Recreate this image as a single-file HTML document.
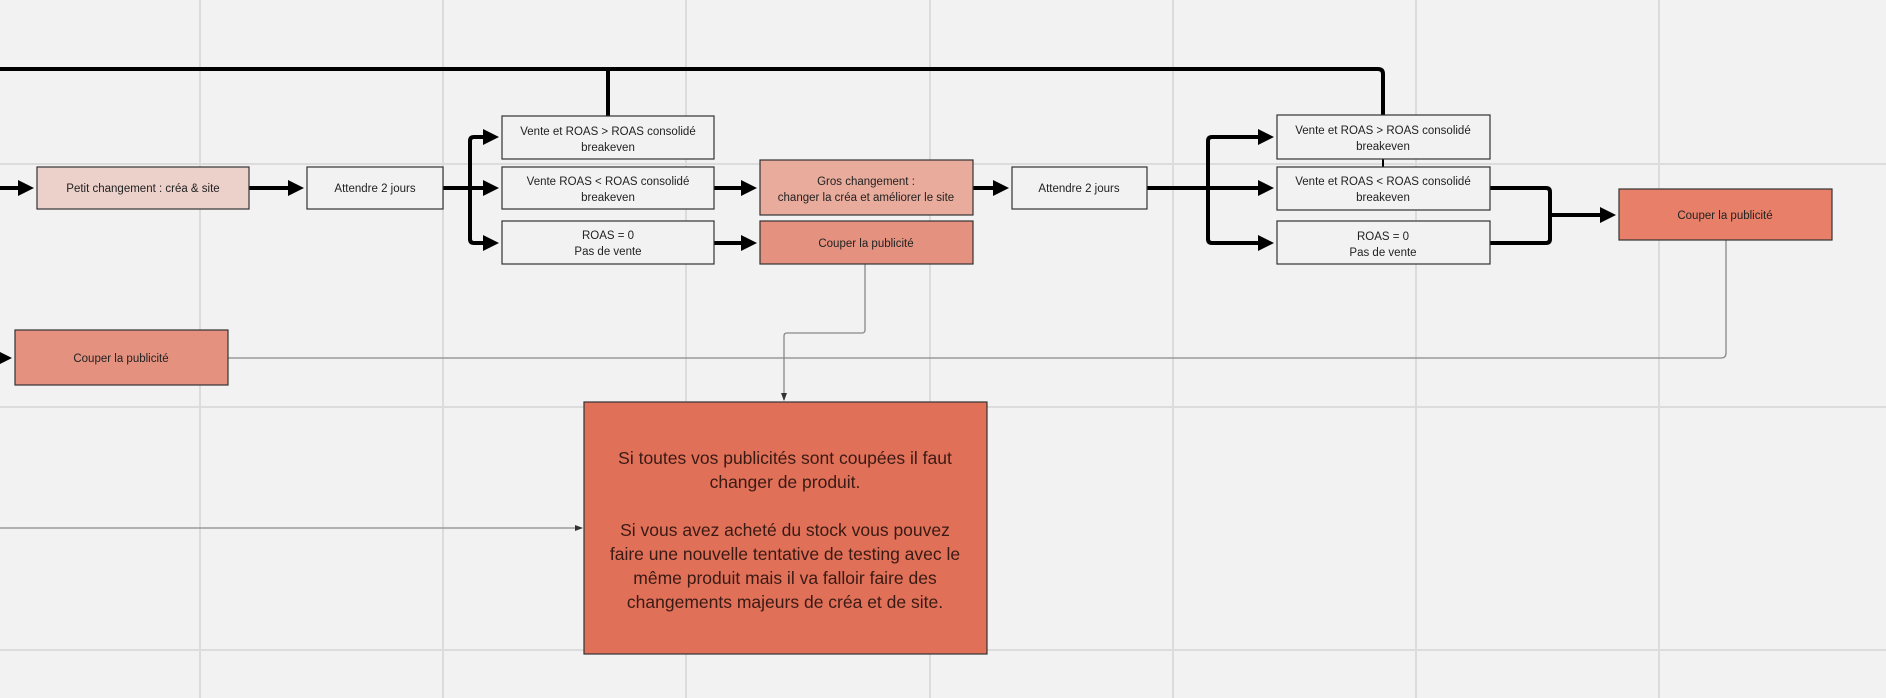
<!DOCTYPE html>
<html><head><meta charset="utf-8"><style>
html,body{margin:0;padding:0;background:#f2f2f2;}
svg{display:block;}
text{font-family:"Liberation Sans",sans-serif;}
</style></head><body>
<svg width="1886" height="698" viewBox="0 0 1886 698" xmlns="http://www.w3.org/2000/svg">
<defs>
<marker id="a" markerWidth="4" markerHeight="4" refX="3" refY="2" orient="auto" markerUnits="strokeWidth"><path d="M0,0 L4,2 L0,4 z" fill="#000"/></marker>
<marker id="s" markerWidth="8" markerHeight="8" refX="7" refY="4" orient="auto" markerUnits="userSpaceOnUse"><path d="M0,1 L8,4 L0,7 z" fill="#333"/></marker>
</defs>
<rect width="1886" height="698" fill="#f2f2f2"/>
<g stroke="#dcdcdc" stroke-width="2">
<line x1="200" y1="0" x2="200" y2="698"/><line x1="443" y1="0" x2="443" y2="698"/><line x1="686" y1="0" x2="686" y2="698"/><line x1="930" y1="0" x2="930" y2="698"/><line x1="1173" y1="0" x2="1173" y2="698"/><line x1="1416" y1="0" x2="1416" y2="698"/><line x1="1659" y1="0" x2="1659" y2="698"/>
<line x1="0" y1="164" x2="1886" y2="164"/><line x1="0" y1="407" x2="1886" y2="407"/><line x1="0" y1="650" x2="1886" y2="650"/>
</g>
<!-- thin gray connectors -->
<g fill="none" stroke="#888" stroke-width="1.3">
<path d="M228,358 H1721 Q1726,358 1726,353 V240"/>
<path d="M865,264 V330 Q865,333 862,333 H787 Q784,333 784,336 V400" marker-end="url(#s)"/>
<path d="M0,528 H582" marker-end="url(#s)"/>
</g>
<!-- thick connectors -->
<g fill="none" stroke="#000" stroke-width="4" stroke-linejoin="round">
<path d="M0,69 H1378 Q1383,69 1383,74 V115"/>
<path d="M608,69 V116"/>
<path d="M1383,159 V167" stroke-width="2"/>
<path d="M0,188 H30" marker-end="url(#a)"/>
<path d="M249,188 H300" marker-end="url(#a)"/>
<path d="M443,188 H470"/>
<path d="M474,137 H495" marker-end="url(#a)"/>
<path d="M470,188 H495" marker-end="url(#a)"/>
<path d="M474,243 H495" marker-end="url(#a)"/>
<path d="M474,137 Q470,137 470,141 V239 Q470,243 474,243"/>
<path d="M714,188 H753" marker-end="url(#a)"/>
<path d="M714,243 H753" marker-end="url(#a)"/>
<path d="M973,188 H1005" marker-end="url(#a)"/>
<path d="M1147,188 H1270" marker-end="url(#a)"/>
<path d="M1270,137" />
<path d="M1212,137 H1270" marker-end="url(#a)"/>
<path d="M1212,243 H1270" marker-end="url(#a)"/>
<path d="M1212,137 Q1208,137 1208,141 V239 Q1208,243 1212,243"/>
<path d="M1490,188 H1546 Q1550,188 1550,192 V239 Q1550,243 1546,243 H1490"/>
<path d="M1550,215 H1612" marker-end="url(#a)"/>
<path d="M0,358 H8" marker-end="url(#a)"/>
</g>
<!-- boxes -->
<g stroke="#333" stroke-width="1.2">
<rect x="37" y="167" width="212" height="42" fill="#ecd0ca"/>
<rect x="307" y="167" width="136" height="42" fill="#f2f2f2"/>
<rect x="502" y="116" width="212" height="43" fill="#f2f2f2"/>
<rect x="502" y="167" width="212" height="42" fill="#f2f2f2"/>
<rect x="502" y="221" width="212" height="43" fill="#f2f2f2"/>
<rect x="760" y="160" width="213" height="55" fill="#e8ab9c"/>
<rect x="760" y="221" width="213" height="43" fill="#e4917f"/>
<rect x="15" y="330" width="213" height="55" fill="#e4917f"/>
<rect x="1012" y="167" width="135" height="42" fill="#f2f2f2"/>
<rect x="1277" y="115" width="213" height="44" fill="#f2f2f2"/>
<rect x="1277" y="167" width="213" height="43" fill="#f2f2f2"/>
<rect x="1277" y="221" width="213" height="43" fill="#f2f2f2"/>
<rect x="1619" y="189" width="213" height="51" fill="#e88069"/>
<rect x="584" y="402" width="403" height="252" fill="#e07058"/>
</g>
<g font-size="11.5" fill="#222" text-anchor="middle">
<text x="143" y="192">Petit changement : créa &amp; site</text>
<text x="375" y="192">Attendre 2 jours</text>
<text x="608" y="135">Vente et ROAS &gt; ROAS consolidé</text><text x="608" y="151">breakeven</text>
<text x="608" y="185">Vente ROAS &lt; ROAS consolidé</text><text x="608" y="201">breakeven</text>
<text x="608" y="239">ROAS = 0</text><text x="608" y="255">Pas de vente</text>
<text x="866" y="185">Gros changement :</text><text x="866" y="201">changer la créa et améliorer le site</text>
<text x="866" y="247">Couper la publicité</text>
<text x="121" y="362">Couper la publicité</text>
<text x="1079" y="192">Attendre 2 jours</text>
<text x="1383" y="134">Vente et ROAS  &gt; ROAS consolidé</text><text x="1383" y="150">breakeven</text>
<text x="1383" y="185">Vente et ROAS &lt; ROAS consolidé</text><text x="1383" y="201">breakeven</text>
<text x="1383" y="240">ROAS = 0</text><text x="1383" y="256">Pas de vente</text>
<text x="1725" y="219">Couper la publicité</text>
</g>
<g font-size="17.5" fill="#3a1a14" text-anchor="middle">
<text x="785" y="464">Si toutes vos publicités sont coupées il faut</text>
<text x="785" y="488">changer de produit.</text>
<text x="785" y="536">Si vous avez acheté du stock vous pouvez</text>
<text x="785" y="560">faire une nouvelle tentative de testing avec le</text>
<text x="785" y="584">même produit mais il va falloir faire des</text>
<text x="785" y="608">changements majeurs de créa et de site.</text>
</g>
</svg>
</body></html>
